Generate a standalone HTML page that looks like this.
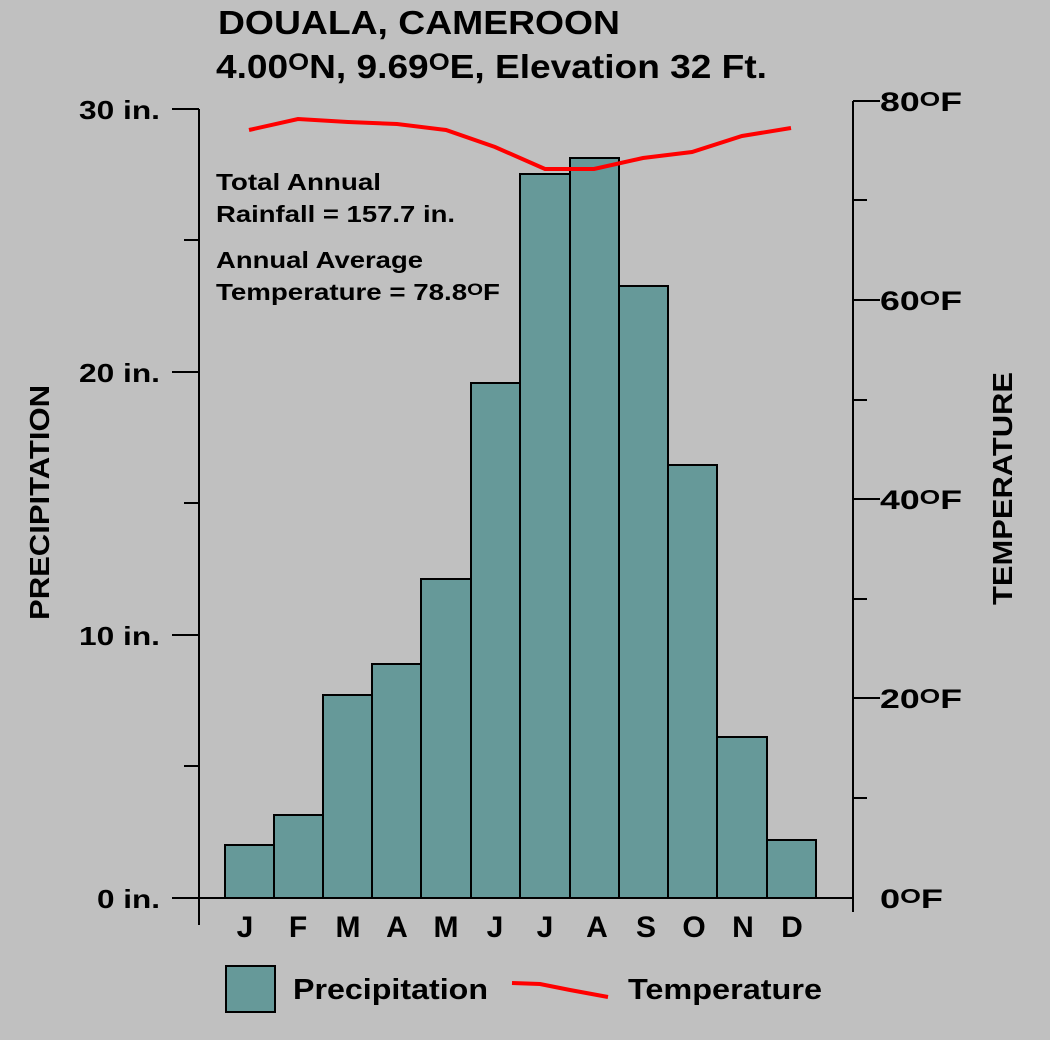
<!DOCTYPE html>
<html><head><style>
body{margin:0;background:#c0c0c0;}
svg text{font-family:"Liberation Sans",Arial,sans-serif;font-weight:bold;fill:#000;}
</style></head><body>
<svg width="1050" height="1035" xmlns="http://www.w3.org/2000/svg">
<rect width="1050" height="1035" fill="#c0c0c0"/>
<text x="218" y="34" font-size="33" textLength="402" lengthAdjust="spacingAndGlyphs">DOUALA, CAMEROON</text>
<text x="216" y="78" font-size="33" textLength="551" lengthAdjust="spacingAndGlyphs">4.00<tspan font-size="24" dy="-8">O</tspan><tspan dy="8">N, 9.69</tspan><tspan font-size="24" dy="-8">O</tspan><tspan dy="8">E, Elevation 32 Ft.</tspan></text>
<g fill="#669999" stroke="#000" stroke-width="2">
<rect x="225" y="845" width="49" height="53"/>
<rect x="274" y="815" width="49" height="83"/>
<rect x="323" y="695" width="49" height="203"/>
<rect x="372" y="664" width="49" height="234"/>
<rect x="421" y="579" width="50" height="319"/>
<rect x="471" y="383" width="49" height="515"/>
<rect x="520" y="174" width="50" height="724"/>
<rect x="570" y="158" width="49" height="740"/>
<rect x="619" y="286" width="49" height="612"/>
<rect x="668" y="465" width="49" height="433"/>
<rect x="717" y="737" width="50" height="161"/>
<rect x="767" y="840" width="49" height="58"/>
</g>
<g stroke="#000" stroke-width="2" fill="none">
<line x1="199" y1="109" x2="199" y2="925"/>
<line x1="172" y1="898" x2="853" y2="898"/>
<line x1="853" y1="101" x2="853" y2="912"/>
<line x1="172" y1="109" x2="199" y2="109"/>
<line x1="184" y1="240" x2="199" y2="240"/>
<line x1="172" y1="372" x2="199" y2="372"/>
<line x1="184" y1="503" x2="199" y2="503"/>
<line x1="172" y1="635" x2="199" y2="635"/>
<line x1="184" y1="766" x2="199" y2="766"/>
<line x1="853" y1="101" x2="880" y2="101"/>
<line x1="853" y1="200" x2="867" y2="200"/>
<line x1="853" y1="300" x2="880" y2="300"/>
<line x1="853" y1="400" x2="867" y2="400"/>
<line x1="853" y1="499" x2="880" y2="499"/>
<line x1="853" y1="599" x2="867" y2="599"/>
<line x1="853" y1="698" x2="880" y2="698"/>
<line x1="853" y1="798" x2="867" y2="798"/>
</g>
<polyline fill="none" stroke="#ff0000" stroke-width="4" points="249,130 298,119 348,122 397,124 446,130 495,147 545,169 594,169 643,158 692,152 742,136 791,128"/>
<g font-size="26">
<text x="79" y="119" textLength="81" lengthAdjust="spacingAndGlyphs">30 in.</text>
<text x="79" y="382" textLength="81" lengthAdjust="spacingAndGlyphs">20 in.</text>
<text x="79" y="645" textLength="81" lengthAdjust="spacingAndGlyphs">10 in.</text>
<text x="97" y="908" textLength="63" lengthAdjust="spacingAndGlyphs">0 in.</text>
</g>
<g font-size="27">
<text x="880" y="111" textLength="82" lengthAdjust="spacingAndGlyphs">80<tspan font-size="20" dy="-5">O</tspan><tspan dy="5">F</tspan></text>
<text x="880" y="310" textLength="82" lengthAdjust="spacingAndGlyphs">60<tspan font-size="20" dy="-5">O</tspan><tspan dy="5">F</tspan></text>
<text x="880" y="509" textLength="82" lengthAdjust="spacingAndGlyphs">40<tspan font-size="20" dy="-5">O</tspan><tspan dy="5">F</tspan></text>
<text x="880" y="708" textLength="82" lengthAdjust="spacingAndGlyphs">20<tspan font-size="20" dy="-5">O</tspan><tspan dy="5">F</tspan></text>
<text x="880" y="908" textLength="63" lengthAdjust="spacingAndGlyphs">0<tspan font-size="20" dy="-5">O</tspan><tspan dy="5">F</tspan></text>
</g>
<g font-size="23">
<text x="216" y="190" textLength="165" lengthAdjust="spacingAndGlyphs">Total Annual</text>
<text x="216" y="222" textLength="239" lengthAdjust="spacingAndGlyphs">Rainfall = 157.7 in.</text>
<text x="216" y="268" textLength="207" lengthAdjust="spacingAndGlyphs">Annual Average</text>
<text x="216" y="300" textLength="284" lengthAdjust="spacingAndGlyphs">Temperature = 78.8<tspan font-size="17" dy="-5">O</tspan><tspan dy="5">F</tspan></text>
</g>
<g font-size="30" text-anchor="middle">
<text x="245" y="937">J</text><text x="298" y="937">F</text><text x="348" y="937">M</text>
<text x="397" y="937">A</text><text x="446" y="937">M</text><text x="495" y="937">J</text>
<text x="545" y="937">J</text><text x="597" y="937">A</text><text x="646" y="937">S</text>
<text x="694" y="937">O</text><text x="743" y="937">N</text><text x="792" y="937">D</text>
</g>
<text font-size="28" textLength="235" lengthAdjust="spacingAndGlyphs" transform="translate(49,620) rotate(-90)">PRECIPITATION</text>
<text font-size="28" textLength="233" lengthAdjust="spacingAndGlyphs" transform="translate(1012,605) rotate(-90)">TEMPERATURE</text>
<rect x="226" y="966" width="49" height="46" fill="#669999" stroke="#000" stroke-width="2"/>
<text x="293" y="999" font-size="29" textLength="195" lengthAdjust="spacingAndGlyphs">Precipitation</text>
<polyline fill="none" stroke="#ff0000" stroke-width="4" points="512,983 540,984 570,990 608,997"/>
<text x="628" y="999" font-size="29" textLength="194" lengthAdjust="spacingAndGlyphs">Temperature</text>
</svg>
</body></html>
